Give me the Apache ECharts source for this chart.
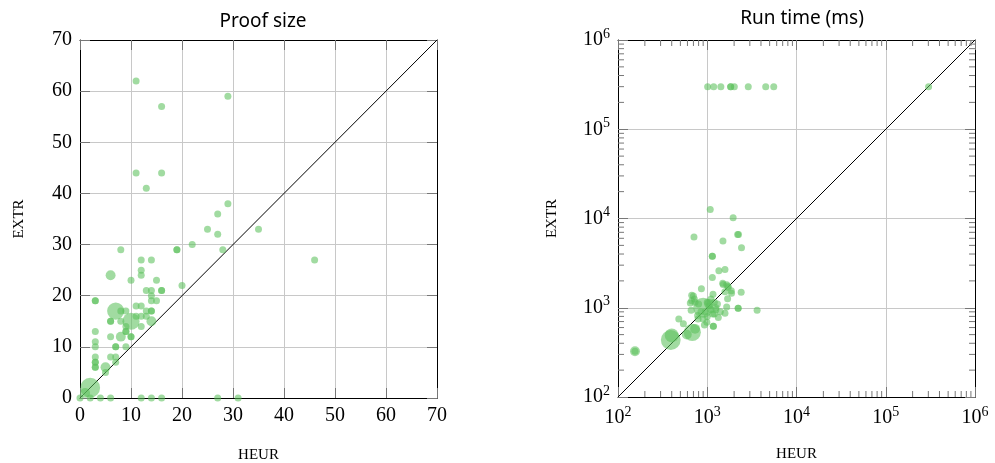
<!DOCTYPE html>
<html>
<head>
<meta charset="utf-8">
<script src="https://cdn.jsdelivr.net/npm/echarts@6/dist/echarts.min.js"></script>
<style>
  html, body { margin: 0; padding: 0; background: #fff; }
  #chart { width: 995px; height: 463px; }
</style>
</head>
<body>
<div id="chart"></div>
<script>
// [HEUR, EXTR, weight]
const proofPoints = [
  [11, 62, 1], [29, 59, 1], [16, 57, 1], [11, 44, 1], [16, 44, 1], [13, 41, 1], [29, 38, 1], [27, 36, 1],
  [25, 33, 1], [27, 32, 1], [22, 30, 1], [8, 29, 1], [19, 29, 1], [19, 29, 1], [28, 29, 1], [12, 27, 1],
  [14, 27, 1], [12, 25, 1], [12, 24, 1], [6, 24, 2], [10, 23, 1], [15, 23, 1], [20, 22, 1], [13, 21, 1],
  [14, 21, 1], [16, 21, 1], [16, 21, 1], [14, 20, 1], [14, 19, 1], [15, 19, 1], [3, 19, 1], [3, 19, 1],
  [7, 17, 6], [8, 17, 1], [9, 17, 1], [11, 18, 1], [12, 18, 1], [13, 17, 1], [14, 17, 1], [14, 17, 1],
  [11, 16, 1], [12, 16, 1], [13, 16, 1], [12, 14, 1], [9, 14, 1],
  [10, 15, 6], [6, 15, 1], [6, 15, 1], [8, 15, 1], [14, 15, 2], [9, 13, 1], [9, 13, 1], [8, 12, 2],
  [10, 12, 1], [10, 12, 1], [6, 12, 1], [3, 13, 1], [3, 11, 1], [3, 10, 1], [7, 10, 1], [7, 10, 1],
  [9, 10, 1], [3, 8, 1], [6, 8, 1], [7, 8, 1], [3, 7, 1], [3, 7, 1], [3, 6, 1], [3, 6, 1], [7, 7, 1],
  [5, 6, 2], [5, 5, 1], [2, 2, 8], [1, 1, 2],
  [0, 0, 1], [2, 0, 1], [4, 0, 1], [6, 0, 1], [12, 0, 1], [14, 0, 1], [16, 0, 1], [27, 0, 1], [31, 0, 1],
  [35, 33, 1], [46, 27, 1]
];

const timePoints = [
  [1010, 300000, 1], [1180, 300000, 1], [1420, 300000, 1], [1830, 300000, 1], [1830, 300000, 1],
  [2010, 300000, 1], [2880, 300000, 1], [4520, 300000, 1], [5560, 300000, 1], [302000, 300000, 1],
  [1080, 12600, 1], [1950, 10200, 1], [710, 6200, 1], [2190, 6620, 1], [2240, 6620, 1], [1500, 5600, 1],
  [2420, 4700, 1], [1140, 3770, 1], [1140, 3770, 1], [1350, 2600, 1], [1580, 2680, 1], [1140, 2180, 1],
  [1490, 1880, 1], [1650, 1810, 1], [1720, 1690, 1], [860, 1630, 1], [2400, 1490, 1], [1870, 1450, 1],
  [1160, 1420, 1], [670, 1380, 1], [716, 1250, 1], [1690, 1260, 1], [646, 1130, 1], [900, 1000, 8],
  [2220, 990, 1], [2220, 990, 1], [3620, 940, 1], [1650, 1020, 1], [660, 940, 1], [1200, 850, 1],
  [1580, 870, 1], [1330, 780, 1], [480, 750, 1], [790, 750, 1], [540, 660, 1], [990, 690, 1],
  [1170, 620, 1], [1170, 620, 1], [930, 640, 1], [680, 530, 6], [730, 580, 2], [390, 435, 8],
  [400, 490, 4], [155, 325, 2], [155, 325, 1], [590, 500, 2],
  [1050, 1050, 1], [950, 900, 1], [1100, 950, 1], [1000, 1150, 1], [1250, 1000, 1], [800, 1100, 1],
  [1510, 1820, 1], [1700, 1740, 1], [1860, 1550, 1], [1580, 1510, 1], [700, 1350, 1], [670, 1200, 1],
  [730, 1150, 1], [1100, 1250, 1], [1200, 1150, 1], [1250, 950, 1], [1400, 900, 1], [1150, 850, 1],
  [1000, 800, 1], [900, 750, 1], [850, 900, 1], [1050, 1100, 2], [1300, 1100, 1], [780, 820, 1]
];

const proofTicks = [0, 10, 20, 30, 40, 50, 60, 70];
const timeRange = [100, 1000000];
const timeMinor = [];
[100, 1000, 10000, 100000].forEach(function (d) {
  for (let k = 2; k <= 9; k++) timeMinor.push(d * k);
});

const chart = echarts.init(document.getElementById('chart'));

const dotColor = 'rgba(92,192,92,0.72)';
const gridColor = '#c8c8c8';
const tickColor = '#777';
const serif = '"Liberation Serif", "DejaVu Serif", serif';

function dotSize(v) { return 7 * Math.sqrt(v[2]); }

function linAxis(pos, gridIndex, withLabel) {
  return {
    type: 'value', gridIndex: gridIndex, position: pos,
    min: proofTicks[0], max: proofTicks[proofTicks.length - 1], interval: 10,
    axisLine: { show: true, onZero: false, lineStyle: { color: '#000', width: 1 } },
    axisTick: { show: true, inside: true, length: 10, lineStyle: { color: tickColor } },
    axisLabel: withLabel ? { show: true, fontFamily: serif, fontSize: 20, color: '#000', margin: 8 } : { show: false },
    splitLine: { show: withLabel, lineStyle: { color: gridColor, width: 1 } }
  };
}

function logAxis(pos, gridIndex, withLabel) {
  return {
    type: 'log', logBase: 10, gridIndex: gridIndex, position: pos,
    min: timeRange[0], max: timeRange[1],
    axisLine: { show: true, onZero: false, lineStyle: { color: '#000', width: 1 } },
    axisTick: { show: true, inside: true, length: 10, lineStyle: { color: tickColor } },
    axisLabel: withLabel ? {
      show: true, margin: 8, color: '#000',
      formatter: function (v) { return '{b|10}{s|' + Math.round(Math.log10(v)) + '}'; },
      rich: {
        b: { fontFamily: serif, fontSize: 20, color: '#000' },
        s: { fontFamily: serif, fontSize: 14, color: '#000', padding: [0, 0, 12, 0] }
      }
    } : { show: false },
    splitLine: { show: withLabel, lineStyle: { color: gridColor, width: 1 } }
  };
}

const nameStyle = { fontFamily: serif, fontSize: 15, color: '#000' };

const xAxes = [
  Object.assign(linAxis('bottom', 0, true), { name: 'HEUR', nameLocation: 'middle', nameGap: 50, nameTextStyle: nameStyle }),
  linAxis('top', 0, false),
  Object.assign(logAxis('bottom', 1, true), { name: 'HEUR', nameLocation: 'middle', nameGap: 50, nameTextStyle: nameStyle }),
  logAxis('top', 1, false)
];
const yAxes = [
  Object.assign(linAxis('left', 0, true), { name: 'EXTR', nameLocation: 'middle', nameGap: 53, nameTextStyle: nameStyle }),
  linAxis('right', 0, false),
  Object.assign(logAxis('left', 1, true), { name: 'EXTR', nameLocation: 'middle', nameGap: 58, nameTextStyle: nameStyle }),
  logAxis('right', 1, false)
];

option = {
  backgroundColor: '#fff',
  animation: false,
  title: [{
    text: 'Proof size', left: 258, top: 7, textAlign: 'center',
    textStyle: { fontFamily: '"Noto Sans", sans-serif', fontSize: 19, fontWeight: 'normal', color: '#000' }
  }, {
    text: 'Run time (ms)', left: 797, top: 4, textAlign: 'center',
    textStyle: { fontFamily: '"Noto Sans", sans-serif', fontSize: 19, fontWeight: 'normal', color: '#000' }
  }],
  grid: [
    { left: 80, top: 40, width: 357, height: 358, outerBoundsMode: 'none' },
    { left: 618, top: 40, width: 357, height: 357, outerBoundsMode: 'none' }
  ],
  xAxis: xAxes,
  yAxis: yAxes,
  series: [{
    type: 'line', xAxisIndex: 0, yAxisIndex: 0, showSymbol: false, silent: true, z: 1,
    lineStyle: { color: '#000', width: 1 },
    data: [[proofTicks[0], proofTicks[0]], [proofTicks[7], proofTicks[7]]]
  }, {
    type: 'scatter', xAxisIndex: 0, yAxisIndex: 0, z: 3,
    symbolSize: dotSize,
    itemStyle: { color: dotColor },
    data: proofPoints
  }, {
    type: 'line', xAxisIndex: 2, yAxisIndex: 2, showSymbol: false, silent: true, z: 1,
    lineStyle: { color: '#000', width: 1 },
    data: [[timeRange[0], timeRange[0]], [timeRange[1], timeRange[1]]]
  }, {
    type: 'scatter', xAxisIndex: 2, yAxisIndex: 2, z: 3,
    symbolSize: dotSize,
    itemStyle: { color: dotColor },
    data: timePoints
  }, {
    // minor log ticks on all four sides
    type: 'custom', xAxisIndex: 2, yAxisIndex: 2, silent: true, clip: false, z: 4,
    data: timeMinor,
    renderItem: function (params, api) {
      const v = api.value(0);
      const b = api.coord([v, timeRange[0]]);
      const t = api.coord([v, timeRange[1]]);
      const l = api.coord([timeRange[0], v]);
      const r = api.coord([timeRange[1], v]);
      const st = { stroke: tickColor, lineWidth: 1 };
      const L = 6;
      return {
        type: 'group',
        children: [
          { type: 'line', shape: { x1: b[0], y1: b[1], x2: b[0], y2: b[1] - L }, style: st },
          { type: 'line', shape: { x1: t[0], y1: t[1], x2: t[0], y2: t[1] + L }, style: st },
          { type: 'line', shape: { x1: l[0], y1: l[1], x2: l[0] + L, y2: l[1] }, style: st },
          { type: 'line', shape: { x1: r[0], y1: r[1], x2: r[0] - L, y2: r[1] }, style: st }
        ]
      };
    },
    encode: { x: 0 }
  }]
};

chart.setOption(option);

window.onresize = function () {
  chart.resize();
};
</script>
</body>
</html>
